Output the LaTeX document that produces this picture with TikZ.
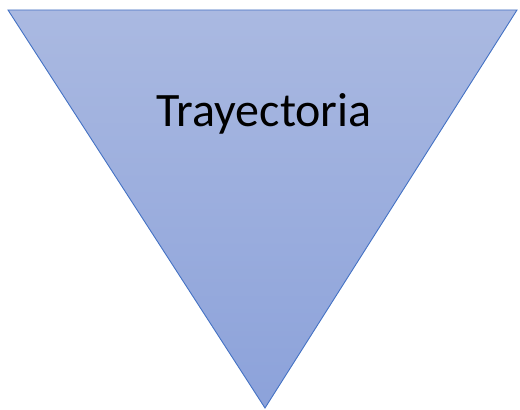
\documentclass[tikz,border=0pt]{standalone}
\usepackage{fontspec}
\setmainfont{Carlito}
\usetikzlibrary{shapes}
\definecolor{edgeblue}{HTML}{4472C4}
\definecolor{topfill}{HTML}{AAB9E1}
\definecolor{botfill}{HTML}{8CA2DA}
\tikzstyle{funnel} = [draw=edgeblue, line width=0.9pt, line join=miter,
top color=topfill, bottom color=botfill]
\tikzstyle{title} = [font=\fontsize{48}{48}\selectfont, text=black, anchor=base]
\begin{document}
\begin{tikzpicture}[x=1pt,y=1pt]
                \useasboundingbox (0,0) rectangle (520,410);
                \coordinate (tl) at (8,400) ; %
                \coordinate (tr) at (517,400) ; %
                \coordinate (tip) at (265,2) ; %

                \path[funnel] (tl) -- (tr) -- (tip) -- cycle ;

                \node[title] (lbl) at (264,283) {Trayectoria} ; %
            \end{tikzpicture}
\end{document}
